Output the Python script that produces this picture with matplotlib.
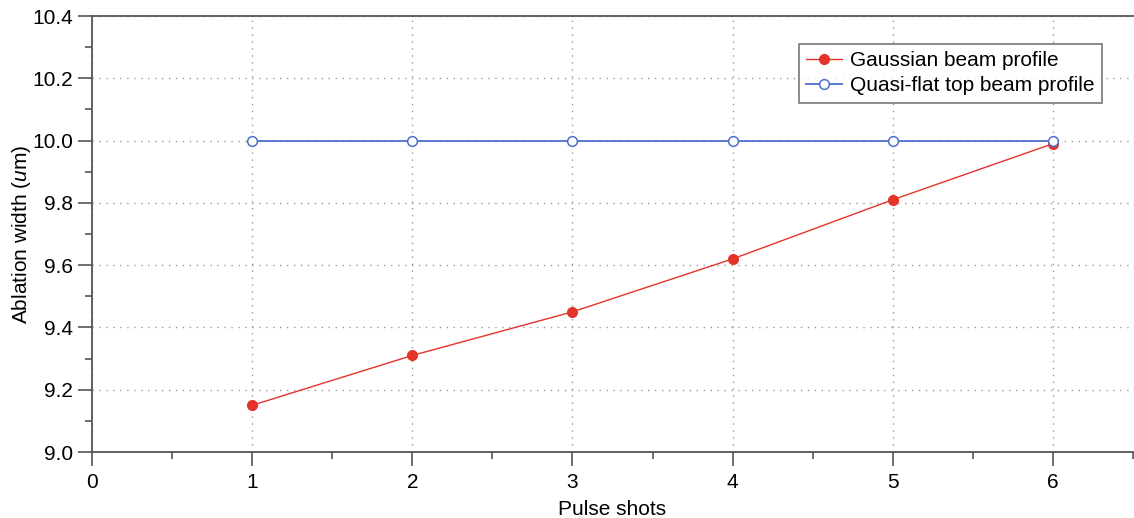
import matplotlib
matplotlib.use('Agg')
import matplotlib.pyplot as plt
from matplotlib.ticker import MultipleLocator

plt.rcParams['font.family'] = ['Liberation Sans', 'DejaVu Sans']
plt.rcParams['mathtext.fontset'] = 'custom'
plt.rcParams['mathtext.rm'] = 'Liberation Sans'
plt.rcParams['mathtext.it'] = 'Liberation Sans:italic'

shots = [1, 2, 3, 4, 5, 6]
gaussian = [9.15, 9.31, 9.45, 9.62, 9.81, 9.99]
flat_top = [10.0, 10.0, 10.0, 10.0, 10.0, 10.0]

fig = plt.figure(figsize=(11.34, 5.18), dpi=100)
ax = fig.add_axes([0.0811, 0.1274, 0.918, 0.8417])

ax.plot(shots, gaussian, marker='o', color='#e5332a', linewidth=1,
        markersize=7, label='Gaussian beam profile', zorder=3)
ax.plot(shots, flat_top, marker='o', color='#4f6fcf', linewidth=1.3,
        markersize=7, markerfacecolor='white', markeredgewidth=1.1,
        label='Quasi-flat top beam profile', zorder=4)

ax.set_xlim(0, 6.5)
ax.set_ylim(9.0, 10.4)
ax.xaxis.set_major_locator(MultipleLocator(1))
ax.xaxis.set_minor_locator(MultipleLocator(0.5))
ax.yaxis.set_major_locator(MultipleLocator(0.2))
ax.yaxis.set_minor_locator(MultipleLocator(0.1))
ax.tick_params(which='major', direction='out', length=10, width=1.2,
               color='#555555', labelsize=15)
ax.tick_params(which='minor', direction='out', length=5, width=1.2,
               color='#555555')
ax.tick_params(axis='x', which='major', pad=5)
ax.tick_params(axis='y', which='major', pad=3.5)
ax.set_yticklabels(['%.1f' % v for v in ax.get_yticks()])

ax.grid(True, which='major', linestyle=(0, (1, 4)), color='#999999', linewidth=1)
for side in ['left', 'bottom', 'top']:
    ax.spines[side].set_color('#555555')
    ax.spines[side].set_linewidth(1.3)
ax.spines['right'].set_visible(False)

ax.set_xlabel('Pulse shots', fontsize=15, labelpad=6)
ax.set_ylabel('Ablation width ($\\mathit{u}$m)', fontsize=15)
ax.yaxis.set_label_coords(-0.057, 0.5)

leg = ax.legend(loc='upper right', bbox_to_anchor=(0.970, 0.936), fontsize=15,
                fancybox=False, borderaxespad=0, handlelength=1.7,
                borderpad=0.35, labelspacing=0.3, handletextpad=0.4)
leg.get_frame().set_edgecolor('#555555')
leg.get_frame().set_linewidth(1.2)

fig.savefig('out.png', dpi=100)
